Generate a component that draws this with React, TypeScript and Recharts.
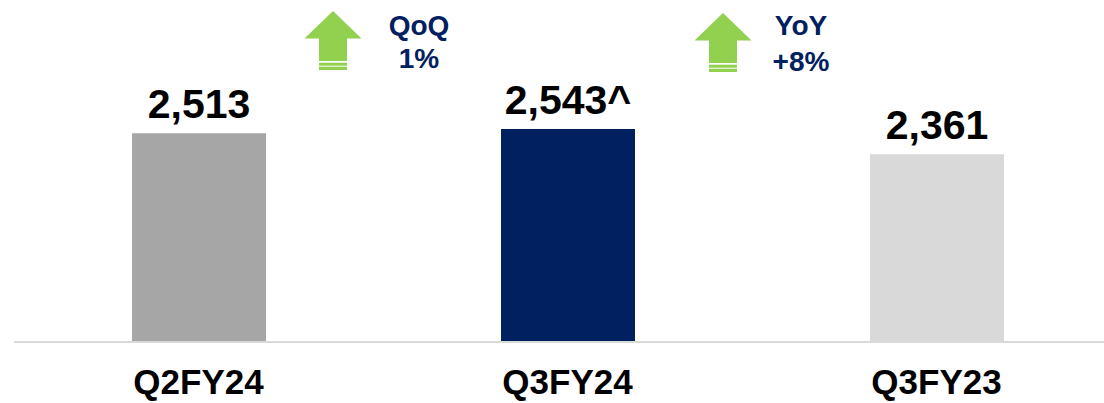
import { BarChart, Bar, XAxis, YAxis, Cell, LabelList, Customized } from 'recharts';

const quarters = ['Q2FY24', 'Q3FY24', 'Q3FY23'];
const values = [2513, 2543, 2361];
const valueSuffix = ['', '^', ''];
const barColors = ['#a6a6a6', '#002060', '#d9d9d9'];

const changeNames = ['QoQ', 'YoY'];
const changeValues = ['1%', '+8%'];

const chartData = quarters.map((name, i) => ({
  name,
  value: values[i],
  suffix: valueSuffix[i],
}));

const FONT = '"Liberation Sans", Arial, sans-serif';
const NAVY = '#002060';
const GREEN = '#92d050';

// placement of the two growth call-outs (arrow tip x/y, text centre x, text baselines)
const callouts = [
  { tipX: 333, tipY: 11, textX: 419, line1: 35, line2: 68 },
  { tipX: 723, tipY: 13, textX: 801, line1: 35, line2: 70.5 },
];

function UpArrow({ x, y }: { x: number; y: number }) {
  const head = 27.5;
  const halfHead = 28.5;
  const halfShaft = 14;
  const shaftEnd = 50;
  const points = [
    [x, y],
    [x + halfHead, y + head],
    [x + halfShaft, y + head],
    [x + halfShaft, y + shaftEnd],
    [x - halfShaft, y + shaftEnd],
    [x - halfShaft, y + head],
    [x - halfHead, y + head],
  ]
    .map((p) => p.join(','))
    .join(' ');
  return (
    <g>
      <polygon points={points} fill={GREEN} />
      <rect x={x - halfShaft} y={y + shaftEnd + 1.7} width={halfShaft * 2} height={3} fill={GREEN} />
      <rect x={x - halfShaft} y={y + shaftEnd + 5.7} width={halfShaft * 2} height={3.3} fill={GREEN} />
    </g>
  );
}

function Callouts() {
  return (
    <g>
      {callouts.map((c, i) => (
        <g key={changeNames[i]}>
          <UpArrow x={c.tipX} y={c.tipY} />
          <text x={c.textX} y={c.line1} textAnchor="middle" fill={NAVY} fontSize={28} fontWeight="bold" fontFamily={FONT}>
            {changeNames[i]}
          </text>
          <text x={c.textX} y={c.line2} textAnchor="middle" fill={NAVY} fontSize={28} fontWeight="bold" fontFamily={FONT}>
            {changeValues[i]}
          </text>
        </g>
      ))}
    </g>
  );
}

function QuarterTick({ x, y, payload }: any) {
  return (
    <text x={x} y={y + 52} textAnchor="middle" fill="#000" fontSize={35} fontWeight="bold" fontFamily={FONT}>
      {payload.value}
    </text>
  );
}

function ValueLabel({ x, y, width, index }: any) {
  const v = values[index].toLocaleString('en-US') + valueSuffix[index];
  return (
    <text x={x + width / 2} y={y - 15} textAnchor="middle" fill="#000" fontSize={41} fontWeight="bold" fontFamily={FONT}>
      {v}
    </text>
  );
}

export default function App() {
  return (
    <div style={{ position: 'absolute', left: 0, top: 0, width: 1104, height: 403, overflow: 'hidden', background: '#fff' }}>
      <BarChart width={1125} height={403} data={chartData} margin={{ top: 66, right: 4, left: 14, bottom: 0 }}>
        <XAxis
          dataKey="name"
          height={61}
          tickLine={false}
          tickSize={0}
          tickMargin={0}
          axisLine={{ stroke: '#d9d9d9', strokeWidth: 2 }}
          tick={<QuarterTick />}
          interval={0}
        />
        <YAxis hide width={0} domain={[1000, 3000]} />
        <Bar dataKey="value" barSize={134} isAnimationActive={false}>
          {chartData.map((d, i) => (
            <Cell key={d.name} fill={barColors[i]} />
          ))}
          <LabelList dataKey="value" content={<ValueLabel />} />
        </Bar>
        <Customized component={<Callouts />} />
      </BarChart>
    </div>
  );
}
